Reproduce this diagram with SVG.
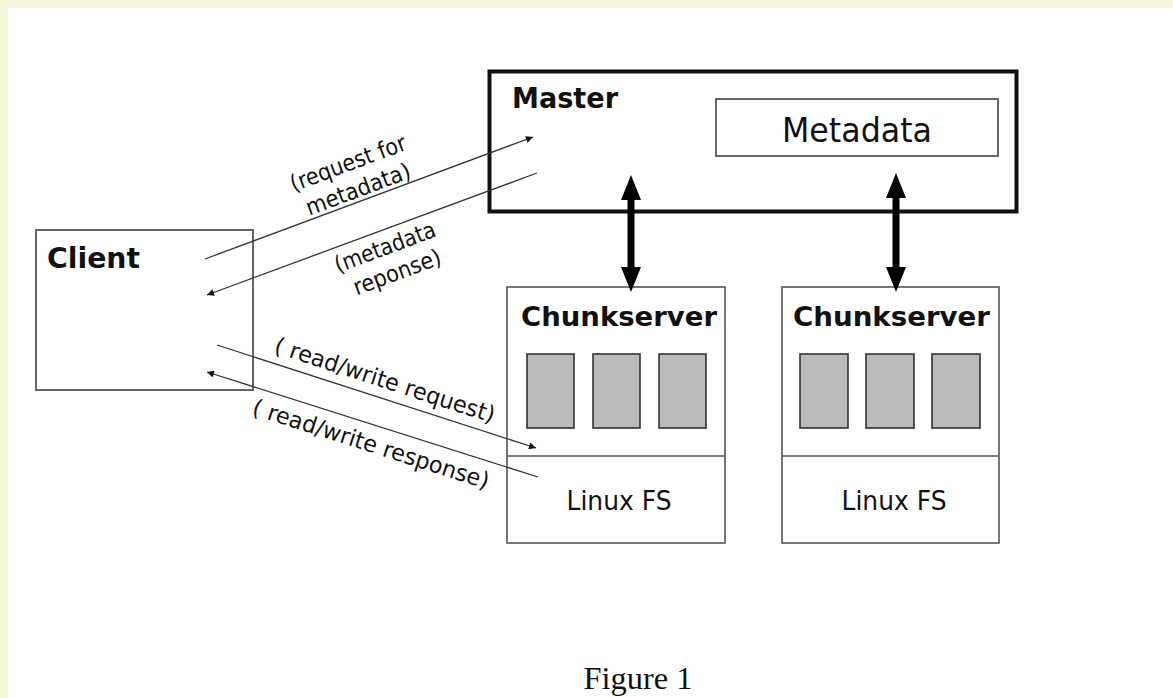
<svg xmlns="http://www.w3.org/2000/svg" width="1173" height="698" viewBox="0 0 1173 698">
<style>
.bold{font-family:"DejaVu Sans","Verdana",sans-serif;font-weight:bold;fill:#111}
.reg{font-family:"DejaVu Sans","Verdana",sans-serif;fill:#111}
.lbl{font-family:"DejaVu Sans","Verdana",sans-serif;font-size:23px;fill:#111;text-anchor:middle}
.box{fill:#fff;stroke:#555;stroke-width:1.6}
.chunk{fill:#bababa;stroke:#333;stroke-width:1.6}
.thin{stroke:#333;stroke-width:1.3;fill:none}
.thick{fill:#000}
</style>
<defs>
<marker id="ah" viewBox="0 0 10 10" refX="10" refY="5" markerWidth="9" markerHeight="7" markerUnits="userSpaceOnUse" orient="auto-start-reverse">
<path d="M0,0 L10,5 L0,10 Z" fill="#111"/>
</marker>
</defs>
<rect x="0" y="0" width="1173" height="698" fill="#fff"/>
<rect x="0" y="0" width="1173" height="8" fill="#f5f5dc"/>
<rect x="0" y="0" width="8" height="698" fill="#f5f5dc"/>

<g id="client">
<rect x="36" y="230" width="217" height="160" fill="#fff" stroke="#666" stroke-width="2"/>
<text class="bold" x="47" y="268" font-size="28" textLength="93" lengthAdjust="spacingAndGlyphs">Client</text>
</g>

<g id="master">
<rect x="489.5" y="71.5" width="527" height="140" fill="#fff" stroke="#111" stroke-width="4"/>
<text class="bold" x="512" y="108" font-size="28" textLength="106" lengthAdjust="spacingAndGlyphs">Master</text>
</g>

<g id="metadata">
<rect x="716" y="99" width="282" height="57" fill="#fff" stroke="#444" stroke-width="1.6"/>
<text class="reg" x="857" y="142" font-size="34" text-anchor="middle" textLength="150" lengthAdjust="spacingAndGlyphs">Metadata</text>
</g>

<g id="chunkserver1">
<rect class="box" x="507" y="287" width="218" height="256"/>
<line x1="507" y1="456" x2="725" y2="456" stroke="#555" stroke-width="1.6"/>
<text class="bold" x="521" y="326" font-size="27" textLength="196" lengthAdjust="spacingAndGlyphs">Chunkserver</text>
<rect class="chunk" x="527" y="354" width="47" height="74"/>
<rect class="chunk" x="593" y="354" width="47" height="74"/>
<rect class="chunk" x="659" y="354" width="47" height="74"/>
<text class="reg" x="619" y="510" font-size="27" text-anchor="middle" textLength="105" lengthAdjust="spacingAndGlyphs">Linux FS</text>
</g>

<g id="chunkserver2">
<rect class="box" x="782" y="287" width="217" height="256"/>
<line x1="782" y1="456" x2="999" y2="456" stroke="#555" stroke-width="1.6"/>
<text class="bold" x="793" y="326" font-size="27" textLength="197" lengthAdjust="spacingAndGlyphs">Chunkserver</text>
<rect class="chunk" x="800" y="354" width="48" height="74"/>
<rect class="chunk" x="866" y="354" width="48" height="74"/>
<rect class="chunk" x="932" y="354" width="48" height="74"/>
<text class="reg" x="894" y="510" font-size="27" text-anchor="middle" textLength="105" lengthAdjust="spacingAndGlyphs">Linux FS</text>
</g>

<g id="connectors">
<line class="thin" x1="205" y1="259" x2="533" y2="137" marker-end="url(#ah)"/>
<line class="thin" x1="537" y1="173" x2="207" y2="295" marker-end="url(#ah)"/>
<line class="thin" x1="217" y1="345" x2="536" y2="448" marker-end="url(#ah)"/>
<line class="thin" x1="538" y1="477" x2="207" y2="372" marker-end="url(#ah)"/>
<path class="thick" d="M631,175 L641,200 L634.5,200 L634.5,267 L641,267 L631,292 L621,267 L627.5,267 L627.5,200 L621,200 Z"/>
<path class="thick" d="M896,173 L906,198 L899.5,198 L899.5,267 L906,267 L896,292 L886,267 L892.5,267 L892.5,198 L886,198 Z"/>
<text class="lbl" x="348" y="171" transform="rotate(-20.4 348 163)" textLength="122" lengthAdjust="spacingAndGlyphs">(request for</text>
<text class="lbl" x="358" y="197" transform="rotate(-20.4 358 189)" textLength="110" lengthAdjust="spacingAndGlyphs">metadata)</text>
<text class="lbl" x="385" y="255" transform="rotate(-20.4 385 247)" textLength="106" lengthAdjust="spacingAndGlyphs">(metadata</text>
<text class="lbl" x="397" y="280" transform="rotate(-20.4 397 272)" textLength="92" lengthAdjust="spacingAndGlyphs">reponse)</text>
<text class="lbl" x="385" y="388" transform="rotate(17.9 385 380)" textLength="230" lengthAdjust="spacingAndGlyphs">( read/write request)</text>
<text class="lbl" x="371" y="452" transform="rotate(17.7 371 444)" textLength="247" lengthAdjust="spacingAndGlyphs">( read/write response)</text>
</g>

<text x="638" y="689" font-family="'Liberation Serif','Times New Roman',serif" font-size="31" fill="#111" text-anchor="middle" textLength="109" lengthAdjust="spacingAndGlyphs">Figure 1</text>
</svg>
